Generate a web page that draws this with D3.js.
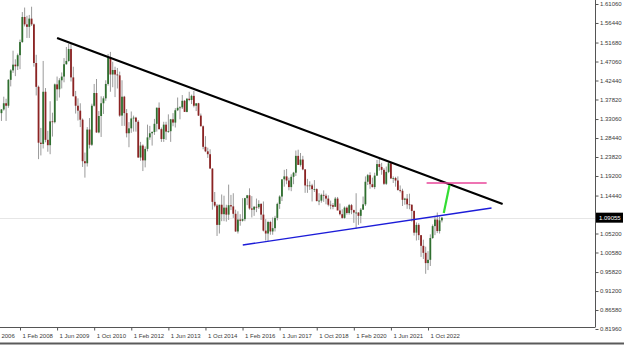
<!DOCTYPE html>
<html lang="en">
<head>
<meta charset="utf-8">
<title>EURUSD, Monthly</title>
<script src="https://cdn.jsdelivr.net/npm/d3@7"></script>
<style>
  body { margin: 0; background: #fff; }
  svg { display: block; font-family: "Liberation Sans", Arial, sans-serif; }
  .axis text { font-size: 6px; fill: #3a3a3a; }
  .axis line { stroke: #555; }
</style>
</head>
<body>
<script>
// monthly candles, first bar = Apr 2007
var firstMonth = [2007, 4];

var opens = [
  1.3355,1.3650,1.3450,1.3540,1.3690,1.3630,1.4260,1.4490,1.4630,                 // 2007
  1.4590,1.4860,1.5180,1.5790,1.5610,1.5550,1.5750,1.5610,1.4670,1.4090,1.2730,1.2700, // 2008
  1.3970,1.2800,1.2670,1.3250,1.3230,1.4150,1.4030,1.4250,1.4340,1.4640,1.4720,1.5010, // 2009
  1.4320,1.3860,1.3630,1.3510,1.3290,1.2280,1.2230,1.3050,1.2680,1.3630,1.3940,1.2980, // 2010
  1.3380,1.3690,1.3810,1.4160,1.4810,1.4390,1.4500,1.4390,1.4370,1.3390,1.3850,1.3450, // 2011
  1.2960,1.3080,1.3320,1.3340,1.3240,1.2370,1.2660,1.2300,1.2580,1.2860,1.2960,1.2990, // 2012
  1.3190,1.3580,1.3060,1.2820,1.3170,1.3000,1.3010,1.3300,1.3220,1.3520,1.3580,1.3590, // 2013
  1.3750,1.3480,1.3800,1.3770,1.3870,1.3630,1.3690,1.3390,1.3130,1.2630,1.2520,1.2450, // 2014
  1.2100,1.1290,1.1200,1.0730,1.1220,1.0990,1.1150,1.0980,1.1210,1.1180,1.1000,1.0570, // 2015
  1.0860,1.0830,1.0870,1.1380,1.1450,1.1130,1.1100,1.1170,1.1160,1.1240,1.0980,1.0590, // 2016
  1.0520,1.0800,1.0570,1.0650,1.0900,1.1240,1.1420,1.1840,1.1910,1.1810,1.1650,1.1900, // 2017
  1.2000,1.2410,1.2190,1.2320,1.2080,1.1690,1.1680,1.1690,1.1600,1.1600,1.1310,1.1320, // 2018
  1.1460,1.1440,1.1370,1.1220,1.1210,1.1170,1.1370,1.1080,1.0990,1.0900,1.1150,1.1020, // 2019
  1.1210,1.1090,1.1030,1.1030,1.0950,1.1100,1.1230,1.1780,1.1940,1.1720,1.1650,1.1930, // 2020
  1.2210,1.2140,1.2070,1.1730,1.2020,1.2230,1.1860,1.1870,1.1810,1.1580,1.1560,1.1340, // 2021
  1.1370,1.1230,1.1220,1.1070,1.0540,1.0730,1.0480,1.0220,1.0050,0.9800,0.9880,1.0410, // 2022
  1.0700,1.0860,1.0580,1.0840                                                      // 2023
];
var highs = [
  1.3682,1.3680,1.3550,1.3850,1.3800,1.4280,1.4520,1.4970,1.4760,
  1.4900,1.5240,1.5910,1.6020,1.5820,1.5840,1.6040,1.5630,1.4870,1.4120,1.3090,1.4720,
  1.4060,1.3020,1.3740,1.3460,1.4170,1.4340,1.4300,1.4440,1.4790,1.5060,1.5140,1.5140,
  1.4580,1.3990,1.3810,1.3690,1.3320,1.2490,1.3110,1.3330,1.3680,1.4160,1.4280,1.3500,
  1.3860,1.3860,1.4250,1.4890,1.4940,1.4700,1.4580,1.4550,1.4460,1.4250,1.3870,1.3550,
  1.3230,1.3490,1.3390,1.3360,1.3280,1.2750,1.2690,1.2640,1.3170,1.3140,1.3010,1.3310,
  1.3590,1.3710,1.3100,1.3240,1.3240,1.3420,1.3310,1.3450,1.3570,1.3830,1.3620,1.3890,
  1.3770,1.3820,1.3970,1.3900,1.3990,1.3680,1.3700,1.3440,1.3150,1.2890,1.2610,1.2570,
  1.2110,1.1530,1.1240,1.1220,1.1470,1.1440,1.1220,1.1710,1.1460,1.1500,1.1100,1.1060,
  1.0990,1.1380,1.1390,1.1460,1.1620,1.1430,1.1190,1.1370,1.1330,1.1260,1.1300,1.0870,
  1.0830,1.0830,1.0910,1.0950,1.1270,1.1450,1.1780,1.2070,1.2090,1.1880,1.1960,1.2020,
  1.2540,1.2560,1.2480,1.2410,1.2090,1.1850,1.1790,1.1730,1.1820,1.1620,1.1500,1.1490,
  1.1570,1.1490,1.1450,1.1320,1.1260,1.1410,1.1410,1.1250,1.1110,1.1180,1.1180,1.1240,
  1.1240,1.1100,1.1500,1.1040,1.1140,1.1420,1.1910,1.1970,1.2010,1.1880,1.2000,1.2310,
  1.2350,1.2240,1.2110,1.2150,1.2260,1.2250,1.1910,1.1900,1.1910,1.1690,1.1610,1.1390,
  1.1480,1.1490,1.1230,1.1080,1.0790,1.0770,1.0480,1.0370,1.0200,1.0090,1.0500,1.0740,
  1.0930,1.1030,1.0930,1.0920
];
var lows = [
  1.3340,1.3410,1.3260,1.3510,1.3260,1.3580,1.4100,1.4430,1.4350,
  1.4500,1.4520,1.5160,1.5560,1.5280,1.5280,1.5570,1.4580,1.3880,1.2330,1.2420,1.2590,
  1.2740,1.2510,1.2450,1.2880,1.3200,1.3750,1.3830,1.4050,1.4200,1.4630,1.4700,1.4220,
  1.3860,1.3440,1.3270,1.3110,1.2140,1.1880,1.2150,1.2590,1.2650,1.3610,1.2970,1.2960,
  1.2870,1.3430,1.3750,1.4120,1.3970,1.4080,1.3840,1.4050,1.3360,1.3140,1.3140,1.2860,
  1.2620,1.2970,1.3000,1.3000,1.2360,1.2290,1.2040,1.2130,1.2520,1.2800,1.2660,1.2920,
  1.3000,1.3050,1.2750,1.2750,1.2800,1.2970,1.2750,1.3130,1.3100,1.3500,1.3300,1.3550,
  1.3480,1.3470,1.3740,1.3670,1.3590,1.3500,1.3380,1.3130,1.2570,1.2500,1.2360,1.2100,
  1.1100,1.1160,1.0460,1.0520,1.0820,1.0820,1.0810,1.0850,1.1090,1.0900,1.0560,1.0520,
  1.0710,1.0810,1.0820,1.1210,1.1100,1.0910,1.0950,1.1040,1.1120,1.0850,1.0570,1.0350,
  1.0340,1.0490,1.0490,1.0570,1.0840,1.1120,1.1310,1.1660,1.1720,1.1570,1.1550,1.1720,
  1.1920,1.2190,1.2150,1.2060,1.1510,1.1510,1.1580,1.1300,1.1530,1.1300,1.1210,1.1270,
  1.1290,1.1230,1.1180,1.1110,1.1110,1.1180,1.1100,1.0960,1.0880,1.0880,1.0980,1.0980,
  1.0990,1.0780,1.0640,1.0730,1.0770,1.1100,1.1190,1.1700,1.1610,1.1640,1.1600,1.1920,
  1.2050,1.1950,1.1700,1.1700,1.1990,1.1850,1.1750,1.1660,1.1560,1.1520,1.1190,1.1220,
  1.1120,1.1110,1.0810,1.0470,1.0350,1.0360,0.9950,0.9900,0.9540,0.9630,0.9730,1.0390,
  1.0480,1.0530,1.0520,1.0790
];
var closes = [
  1.3650,1.3450,1.3540,1.3690,1.3630,1.4260,1.4490,1.4630,1.4590,
  1.4860,1.5180,1.5790,1.5610,1.5550,1.5750,1.5610,1.4670,1.4090,1.2730,1.2700,1.3970,
  1.2800,1.2670,1.3250,1.3230,1.4150,1.4030,1.4250,1.4340,1.4640,1.4720,1.5010,1.4320,
  1.3860,1.3630,1.3510,1.3290,1.2280,1.2230,1.3050,1.2680,1.3630,1.3940,1.2980,1.3380,
  1.3690,1.3810,1.4160,1.4810,1.4390,1.4500,1.4390,1.4370,1.3390,1.3850,1.3450,1.2960,
  1.3080,1.3320,1.3340,1.3240,1.2370,1.2660,1.2300,1.2580,1.2860,1.2960,1.2990,1.3190,
  1.3580,1.3060,1.2820,1.3170,1.3000,1.3010,1.3300,1.3220,1.3520,1.3580,1.3590,1.3750,
  1.3480,1.3800,1.3770,1.3870,1.3630,1.3690,1.3390,1.3130,1.2630,1.2520,1.2450,1.2100,
  1.1290,1.1200,1.0730,1.1220,1.0990,1.1150,1.0980,1.1210,1.1180,1.1000,1.0570,1.0860,
  1.0830,1.0870,1.1380,1.1450,1.1130,1.1100,1.1170,1.1160,1.1240,1.0980,1.0590,1.0520,
  1.0800,1.0570,1.0650,1.0900,1.1240,1.1420,1.1840,1.1910,1.1810,1.1650,1.1900,1.2000,
  1.2410,1.2190,1.2320,1.2080,1.1690,1.1680,1.1690,1.1600,1.1600,1.1310,1.1320,1.1460,
  1.1440,1.1370,1.1220,1.1210,1.1170,1.1370,1.1080,1.0990,1.0900,1.1150,1.1020,1.1210,
  1.1090,1.1030,1.1030,1.0950,1.1100,1.1230,1.1780,1.1940,1.1720,1.1650,1.1930,1.2210,
  1.2140,1.2070,1.1730,1.2020,1.2230,1.1860,1.1870,1.1810,1.1580,1.1560,1.1340,1.1370,
  1.1230,1.1220,1.1070,1.0540,1.0730,1.0480,1.0220,1.0050,0.9800,0.9880,1.0410,1.0700,
  1.0860,1.0580,1.0840,1.09055
];

var currentPrice = 1.09055;

var yTicks = [1.61060, 1.56440, 1.51680, 1.47060, 1.42440, 1.37820, 1.33060, 1.28440, 1.23820,
              1.19200, 1.14440, 1.09820, 1.05200, 1.00580, 0.95820, 0.91200, 0.86580, 0.81960];

var xTickLabels = ["1 Oct 2006", "1 Feb 2008", "1 Jun 2009", "1 Oct 2010", "1 Feb 2012", "1 Jun 2013",
                   "1 Oct 2014", "1 Feb 2016", "1 Jun 2017", "1 Oct 2018", "1 Feb 2020", "1 Jun 2021", "1 Oct 2022"];

// drawn objects: [year, month (fractional), price] pairs
var resistanceLine = [[2009, 6.0, 1.5280], [2025, 6.2, 1.1238]];
var supportLine    = [[2016, 2.1, 1.0240], [2025, 1.4, 1.1141]];
var targetLevel    = [[2022, 9.4, 1.1749], [2024, 11.3, 1.1749]];
var projection     = [[2023, 4.8, 1.1019], [2023, 7.3, 1.1700]];

var W = 624, H = 345;
var plotW = 595, plotH = 327;

function mi(year, month) { return year * 12 + (month - 1); }

var parseTick = d3.timeParse("%d %b %Y");
var xTickMonths = xTickLabels.map(function(s) {
  var d = parseTick(s);
  return mi(d.getFullYear(), d.getMonth() + 1);
});

var x = d3.scaleLinear()
  .domain([mi(2008, 2), mi(2022, 10)])
  .range([20, 428]);

var y = d3.scaleLinear()
  .domain([0.81960, 1.61060])
  .range([329, 4]);

var candles = closes.map(function(c, i) {
  return { m: mi(firstMonth[0], firstMonth[1]) + i, o: opens[i], h: highs[i], l: lows[i], c: c };
});

var svg = d3.select("body").append("svg")
  .attr("width", W).attr("height", H);

svg.append("defs").append("clipPath").attr("id", "plot")
  .append("rect").attr("width", plotW).attr("height", plotH);

var plot = svg.append("g").attr("clip-path", "url(#plot)");

// current price line
plot.append("line")
  .attr("x1", 0).attr("x2", plotW)
  .attr("y1", Math.round(y(currentPrice)) + 0.5).attr("y2", Math.round(y(currentPrice)) + 0.5)
  .attr("stroke", "#e6e6e6");

var bar = plot.selectAll("g.candle").data(candles).enter().append("g").attr("class", "candle");

bar.append("line")
  .attr("x1", function(d) { return x(d.m); })
  .attr("x2", function(d) { return x(d.m); })
  .attr("y1", function(d) { return y(d.h); })
  .attr("y2", function(d) { return y(d.l); })
  .attr("stroke", "#9a9a9a").attr("stroke-width", 1);

bar.append("rect")
  .attr("x", function(d) { return x(d.m) - 0.9; })
  .attr("width", 1.8)
  .attr("y", function(d) { return y(Math.max(d.o, d.c)); })
  .attr("height", function(d) { return Math.max(0.8, Math.abs(y(d.o) - y(d.c))); })
  .attr("fill", function(d) { return d.c >= d.o ? "#2f6f2f" : "#8c2323"; });

function seg(pts, color, width) {
  plot.append("line")
    .attr("x1", x(mi(pts[0][0], 1) + pts[0][1] - 1))
    .attr("y1", y(pts[0][2]))
    .attr("x2", x(mi(pts[1][0], 1) + pts[1][1] - 1))
    .attr("y2", y(pts[1][2]))
    .attr("stroke", color).attr("stroke-width", width)
    .attr("stroke-linecap", "butt");
}
seg(resistanceLine, "#000", 2.2);
seg(supportLine, "#1c1cd8", 1.4);
seg(targetLevel, "#e8469a", 1.3);
seg(projection, "#33dd33", 2.2);

// frame
svg.append("line").attr("x1", plotW + 0.5).attr("x2", plotW + 0.5).attr("y1", 0).attr("y2", plotH)
  .attr("stroke", "#555");
svg.append("line").attr("x1", 0).attr("x2", plotW + 0.5).attr("y1", plotH + 0.5).attr("y2", plotH + 0.5)
  .attr("stroke", "#555");
svg.append("line").attr("x1", 0).attr("x2", W).attr("y1", 343.5).attr("y2", 343.5)
  .attr("stroke", "#5a5a5a").attr("stroke-width", 2);

// price axis
var yAxis = svg.append("g").attr("class", "axis")
  .attr("transform", "translate(" + (plotW + 0.5) + ",0)")
  .call(d3.axisRight(y).tickValues(yTicks).tickFormat(d3.format(".5f")).tickSize(3).tickPadding(1.5));
yAxis.select(".domain").remove();

// time axis
var xAxis = svg.append("g").attr("class", "axis")
  .attr("transform", "translate(0," + (plotH + 0.5) + ")")
  .call(d3.axisBottom(x).tickValues(xTickMonths).tickFormat(function(d, i) { return xTickLabels[i]; })
    .tickSize(3).tickPadding(2));
xAxis.select(".domain").remove();
xAxis.selectAll("text").attr("text-anchor", "start").attr("x", 2).attr("dy", "0.9em");

// current price tag
var cy = y(currentPrice);
svg.append("rect").attr("x", plotW + 1).attr("y", cy - 5).attr("width", 27).attr("height", 10).attr("fill", "#000");
svg.append("text").attr("x", plotW + 4).attr("y", cy).attr("dy", "0.35em")
  .attr("font-size", 6).attr("fill", "#fff").text(d3.format(".5f")(currentPrice));
</script>
</body>
</html>
